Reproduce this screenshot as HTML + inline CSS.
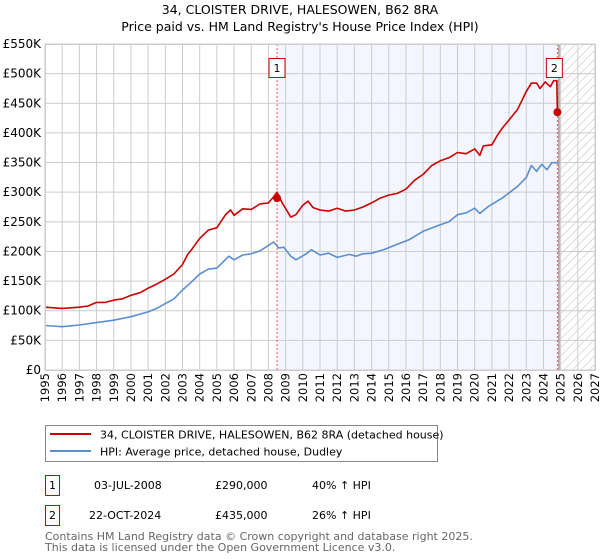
<!DOCTYPE html>
<html><head><meta charset="utf-8"><style>
body{margin:0;background:#fff;width:600px;height:560px;overflow:hidden;font-family:"DejaVu Sans","Liberation Sans",sans-serif}
svg{position:absolute;left:0;top:0}
</style></head><body>
<svg id="c" width="600" height="560" xmlns="http://www.w3.org/2000/svg">
<defs><pattern id="hatch" width="6" height="6" patternUnits="userSpaceOnUse" patternTransform="rotate(45)"><line x1="0" y1="0" x2="0" y2="6" stroke="#bbb" stroke-width="1"/></pattern></defs>
<text x="300" y="14" text-anchor="middle" font-size="12.5" fill="#000">34, CLOISTER DRIVE, HALESOWEN, B62 8RA</text>
<text x="300" y="31" text-anchor="middle" font-size="12.5" fill="#000">Price paid vs. HM Land Registry's House Price Index (HPI)</text>
<g id="plot"></g>
<g>
<rect x="45.5" y="425.5" width="392" height="36" fill="#fff" stroke="#888"/>
<line x1="50" y1="434" x2="91" y2="434" stroke="#cc0000" stroke-width="2"/>
<text x="100" y="438.5" font-size="11">34, CLOISTER DRIVE, HALESOWEN, B62 8RA (detached house)</text>
<line x1="50" y1="451" x2="91" y2="451" stroke="#5b8fd0" stroke-width="2"/>
<text x="100" y="455.5" font-size="11">HPI: Average price, detached house, Dudley</text>
</g>
<g font-size="11">
<rect x="45.5" y="475.5" width="14" height="20" fill="#fff" stroke="#cc0000"/>
<text x="52.5" y="489" text-anchor="middle">1</text>
<text x="94" y="489">03-JUL-2008</text><text x="215" y="489">£290,000</text><text x="312" y="489">40% ↑ HPI</text>
<rect x="45.5" y="505.5" width="14" height="20" fill="#fff" stroke="#cc0000"/>
<text x="52.5" y="519" text-anchor="middle">2</text>
<text x="89" y="519">22-OCT-2024</text><text x="215" y="519">£435,000</text><text x="312" y="519">26% ↑ HPI</text>
</g>
<text x="45" y="540" font-size="11" fill="#666">Contains HM Land Registry data © Crown copyright and database right 2025.</text>
<text x="45" y="551" font-size="11" fill="#666">This data is licensed under the Open Government Licence v3.0.</text>
</svg>
<script>
const yearTicks=[1995,1996,1997,1998,1999,2000,2001,2002,2003,2004,2005,2006,2007,2008,2009,2010,2011,2012,2013,2014,2015,2016,2017,2018,2019,2020,2021,2022,2023,2024,2025,2026,2027];
const priceTicks=[0,50,100,150,200,250,300,350,400,450,500,550];
const priceLabels=["£0","£50K","£100K","£150K","£200K","£250K","£300K","£350K","£400K","£450K","£500K","£550K"];
const redT=[1995,1995.5,1996,1997,1997.5,1998,1998.5,1999,1999.5,2000,2000.5,2001,2001.5,2002,2002.5,2003,2003.3,2003.5,2004,2004.5,2005,2005.5,2005.8,2006,2006.5,2007,2007.5,2008,2008.3,2008.5,2008.8,2009.3,2009.6,2010,2010.3,2010.6,2011,2011.5,2012,2012.5,2013,2013.5,2014,2014.5,2015,2015.5,2016,2016.5,2017,2017.5,2018,2018.5,2019,2019.5,2020,2020.3,2020.5,2021,2021.3,2021.6,2022,2022.5,2023,2023.3,2023.6,2023.8,2024.1,2024.4,2024.6,2024.78,2024.81];
const redV=[106,105,104,106,108,114,114,118,120,126,130,138,145,153,162,178,195,202,222,236,240,262,270,261,272,271,280,282,292,300,282,258,262,278,285,274,270,268,273,268,270,275,282,290,295,298,305,320,330,345,353,358,367,365,373,362,378,380,395,408,422,440,470,484,484,475,486,478,488,488,435];
const blueT=[1995,1996,1997,1998,1999,2000,2001,2001.5,2002,2002.5,2003,2003.5,2004,2004.5,2005,2005.7,2006,2006.5,2007,2007.5,2008,2008.3,2008.6,2008.9,2009.3,2009.6,2010.2,2010.5,2011,2011.5,2012,2012.7,2013.1,2013.5,2014,2014.7,2015.5,2016.2,2017,2018,2018.5,2019,2019.5,2020,2020.3,2020.8,2021.6,2022.5,2023,2023.3,2023.6,2023.9,2024.2,2024.5,2024.85];
const blueV=[75,73,76,80,84,90,98,104,112,120,135,148,162,170,172,192,186,194,196,201,210,216,206,207,192,186,196,203,194,197,190,195,192,196,197,203,212,220,234,245,250,262,265,273,264,276,290,310,325,345,335,347,338,350,349];
const saleT=[2008.5,2024.81];
const saleV=[290,435];
const saleLbl=["1","2"];
const NS="http://www.w3.org/2000/svg";
const X0=45,X1=595,Y0=370,Y1=44;
const xs=t=>X0+(t-1995)*(X1-X0)/32;
const ys=v=>Y0-v*(Y0-Y1)/550;
const g=document.getElementById('plot');
function mk(tag,a,p){const e=document.createElementNS(NS,tag);for(const k in a)e.setAttribute(k,a[k]);(p||g).appendChild(e);return e;}
let e;
e=mk('rect',{x:xs(saleT[0]),y:Y1,width:xs(saleT[1])-xs(saleT[0]),height:Y0-Y1,fill:'#f3f6fe'});


e=mk('rect',{x:xs(2024.9),y:Y1,width:X1-xs(2024.9),height:Y0-Y1,fill:'url(#hatch)'});


yearTicks.forEach(y=>{e=mk('line',{x1:xs(y),x2:xs(y),y1:Y1,y2:Y0,stroke:'#ccc'});


e=mk('text',{x:0,y:0,'font-size':11.5,transform:`translate(${xs(y)+4},${Y0+3}) rotate(-90)`,'text-anchor':'end'});e.textContent=y;

});
priceTicks.forEach((v,i)=>{e=mk('line',{x1:X0,x2:X1,y1:ys(v),y2:ys(v),stroke:'#ccc'});


e=mk('text',{x:X0-4,y:ys(v)+4,'font-size':12,'text-anchor':'end'});e.textContent=priceLabels[i];

});
e=mk('line',{x1:xs(2024.9),x2:xs(2024.9),y1:Y1,y2:Y0,stroke:'#999','stroke-width':1.5});


saleT.forEach((t,i)=>{e=mk('line',{x1:xs(t),x2:xs(t),y1:Y1,y2:Y0,stroke:'#e06060','stroke-dasharray':'2,2'});

});
function path(T,V,col,name){let d=T.map((t,i)=>(i?'L':'M')+xs(t).toFixed(1)+','+ys(V[i]).toFixed(1)).join('');
const p=mk('path',{d:d,fill:'none',stroke:col,'stroke-width':1.6,'stroke-linejoin':'round'});return p;}
e=path(blueT,blueV,'#5b8fd0');


e=path(redT,redV,'#cc0000');


saleT.forEach((t,i)=>{e=mk('circle',{cx:xs(t),cy:ys(saleV[i]),r:4,fill:'#cc0000'});


const bx=xs(t)-8-(i?3:0);
e=mk('rect',{x:bx,y:58.5,width:16,height:19,fill:'#fff',stroke:'#cc0000'});


e=mk('text',{x:bx+8,y:72,'font-size':11,'text-anchor':'middle'});e.textContent=saleLbl[i];

});
e=mk('rect',{x:X0+.5,y:Y1+.5,width:X1-X0,height:Y0-Y1,fill:'none',stroke:'#ccc'});


</script>
</body></html>
